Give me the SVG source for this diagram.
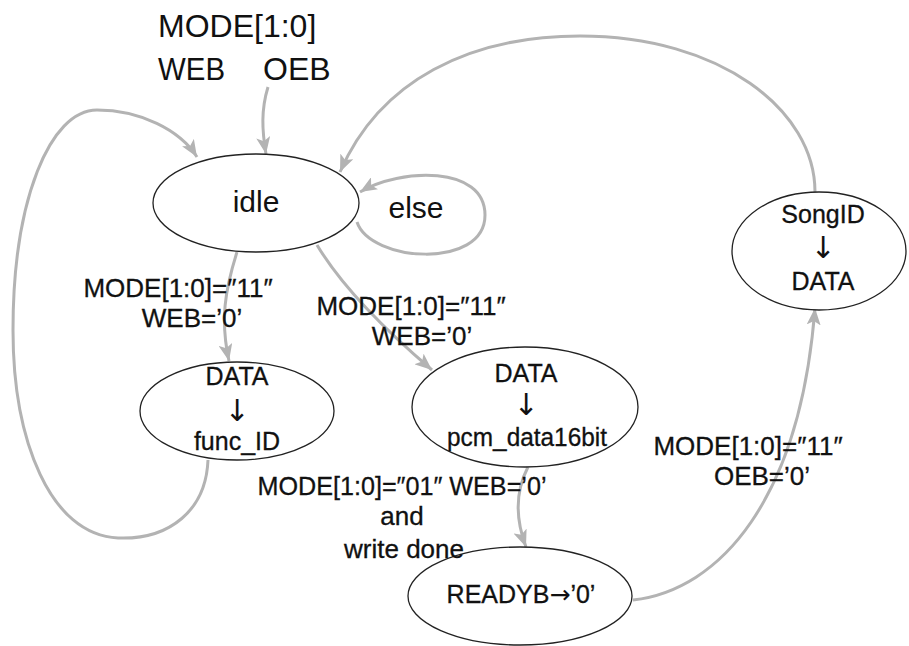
<svg xmlns="http://www.w3.org/2000/svg" width="909" height="646" viewBox="0 0 909 646">
<defs>
<style>
.edge{fill:none;stroke:#b3b3b3;stroke-width:3;marker-end:url(#ah)}
.node{fill:#fff;stroke:#222;stroke-width:1.3}
text{font-family:"Liberation Sans",Arial,sans-serif;fill:#111;text-anchor:middle}
.lbl{font-size:26px;stroke:#111;stroke-width:0.3}
.nt{font-size:25px;stroke:#111;stroke-width:0.3}
.ar{font-family:"DejaVu Sans",sans-serif;stroke-width:0}
.dn{font-size:30px}
.big{font-size:30px}
.title{font-size:32px;text-anchor:start}
</style>
<marker id="ah" markerUnits="userSpaceOnUse" markerWidth="18" markerHeight="14" refX="17" refY="7" orient="auto">
<path d="M0,0 L17,7 L0,14 L4,7 z" fill="#b3b3b3"/>
</marker>
</defs>
<rect width="909" height="646" fill="#fff"/>
<g id="connectors">
<path class="edge" d="M268,87 C261,110 262,130 266,154"/>
<path class="edge" d="M208,460 C206,510 170,540 118,538 C50,535 13,440 13,330 C13,200 50,110 97,110 C140,110 180,130 197,157"/>
<path class="edge" d="M357,222 C370,262 485,270 485,215 C485,165 400,168 360,192"/>
<path class="edge" d="M237,252 C225,290 220,320 229,361"/>
<path class="edge" d="M317,245 Q350,300 432,370"/>
<path class="edge" d="M528,467 C516,490 514,515 526,547"/>
<path class="edge" d="M633,600 C720,590 800,500 815,308"/>
<path class="edge" d="M815,192 C815,110 720,36 580,36 C470,36 380,80 340,172"/>
</g>
<g id="input">
<text class="title" x="158" y="37">MODE[1:0]</text>
<text class="title" x="158" y="80" textLength="67" lengthAdjust="spacingAndGlyphs">WEB</text>
<text class="title" x="263" y="80">OEB</text>
</g>
<g id="idle">
<ellipse class="node" cx="256" cy="203" rx="103" ry="49"/>
<text class="big" x="256" y="212">idle</text>
</g>
<g id="else">
<text class="big" x="416" y="218">else</text>
</g>
<g id="funcid">
<ellipse class="node" cx="237" cy="411" rx="97" ry="49"/>
<text class="nt" x="237" y="385">DATA</text>
<text class="nt ar dn" x="237" y="421">↓</text>
<text class="nt" x="237" y="450">func_ID</text>
</g>
<g id="pcm">
<ellipse class="node" cx="525" cy="407" rx="113" ry="60"/>
<text class="nt" x="526" y="382">DATA</text>
<text class="nt ar dn" x="526" y="415">↓</text>
<text class="nt" x="527" y="446" textLength="160" lengthAdjust="spacingAndGlyphs">pcm_data16bit</text>
</g>
<g id="readyb">
<ellipse class="node" cx="520" cy="596" rx="112" ry="49"/>
<text class="nt" x="521" y="603">READYB<tspan class="ar">→</tspan>’0’</text>
</g>
<g id="songid">
<ellipse class="node" cx="819" cy="251" rx="87" ry="59"/>
<text class="nt" x="823" y="223">SongID</text>
<text class="nt ar dn" x="823" y="258">↓</text>
<text class="nt" x="823" y="290">DATA</text>
</g>
<g id="labels">
<text class="lbl" x="178" y="297">MODE[1:0]=″11″</text>
<text class="lbl" x="192" y="327">WEB=’0’</text>
<text class="lbl" x="411" y="315">MODE[1:0]=″11″</text>
<text class="lbl" x="422" y="345">WEB=’0’</text>
<text class="lbl" x="402" y="495" textLength="289" lengthAdjust="spacingAndGlyphs">MODE[1:0]=″01″ WEB=’0’</text>
<text class="lbl" x="402" y="525">and</text>
<text class="lbl" x="404" y="558">write done</text>
<text class="lbl" x="748" y="455">MODE[1:0]=″11″</text>
<text class="lbl" x="762" y="485">OEB=’0’</text>
</g>
</svg>
